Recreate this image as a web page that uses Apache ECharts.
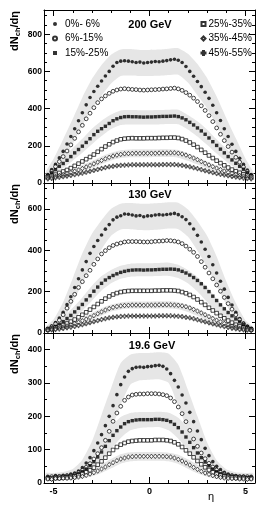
<!DOCTYPE html>
<html><head><meta charset="utf-8">
<script src="https://cdn.jsdelivr.net/npm/echarts@6/dist/echarts.min.js"></script>
<style>html,body{margin:0;padding:0;background:#fff}#c{width:274px;height:509px}</style>
</head><body><div id="c"></div>
<script>
// ---------- data ----------
const ETA = [-5.3,-5.1,-4.9,-4.7,-4.5,-4.3,-4.1,-3.9,-3.7,-3.5,-3.3,-3.1,-2.9,-2.7,-2.5,-2.3,-2.1,-1.9,-1.7,-1.5,-1.3,-1.1,-0.9,-0.7,-0.5,-0.3,-0.1,
             0.1,0.3,0.5,0.7,0.9,1.1,1.3,1.5,1.7,1.9,2.1,2.3,2.5,2.7,2.9,3.1,3.3,3.5,3.7,3.9,4.1,4.3,4.5,4.7,4.9,5.1,5.3];
const CENT = ['0%- 6%','6%-15%','15%-25%','25%-35%','35%-45%','45%-55%'];
const PANEL_LABELS = ['200 GeV','130 GeV','19.6 GeV'];

// 200 GeV
const E200_C0 = [45,72,100,135,170,210,250,292,335,378,420,460,492,520,548,575,600,628,648,655,657,655,652,648,650,645,648,
                 650,653,652,655,658,662,665,660,648,626,600,574,546,518,488,455,418,378,336,292,250,208,170,133,100,70,45];
const E200_C1 = [40,62,88,115,142,172,205,240,275,310,345,375,405,432,452,468,482,493,500,505,507,505,503,502,500,499,500,
                 501,502,503,505,506,508,510,506,498,486,472,456,438,415,390,362,330,296,262,228,196,166,138,112,86,62,40];
const E200_C2 = [40,55,72,90,105,122,142,162,180,198,218,238,260,278,292,305,320,335,345,352,356,357,356,356,355,354,355,
                 355,356,357,358,358,359,360,357,350,340,326,312,296,280,262,242,222,202,182,162,142,124,106,90,74,56,40];
const E200_C3 = [32,38,45,54,62,70,80,92,104,116,128,140,153,168,182,196,208,220,228,235,238,240,241,240,240,240,241,
                 241,241,242,243,243,244,244,242,236,228,218,206,193,178,163,148,134,120,107,95,83,72,63,55,47,40,33];
const E200_C4 = [28,32,36,40,45,50,56,63,70,78,86,94,103,112,121,130,138,145,150,154,157,158,159,160,159,160,160,
                 160,160,161,161,161,162,162,160,156,150,143,134,125,115,106,97,88,80,72,64,57,51,46,41,37,33,29];
const E200_C5 = [22,25,28,31,34,37,41,45,49,53,58,63,68,73,78,83,87,90,93,95,96,97,98,98,98,98,98,
                 98,98,98,99,99,99,99,97,95,91,87,82,77,72,66,61,56,51,47,43,39,35,32,29,26,24,22];
// 130 GeV
const E130_C0 = [22,33,50,72,100,137,175,220,262,305,345,385,418,447,474,502,524,547,560,567,575,574,570,566,568,562,566,
                 567,570,572,570,573,575,578,572,562,548,528,503,472,440,405,370,330,290,250,212,172,135,100,70,48,32,22];
const E130_C1 = [20,30,44,62,88,120,153,187,220,248,277,303,332,358,382,398,412,423,430,435,440,442,442,442,441,440,440,
                 441,443,444,445,447,446,444,440,432,420,405,390,370,345,318,290,262,232,202,172,142,115,88,64,44,30,20];
const E130_C2 = [18,24,32,42,55,70,85,102,120,138,160,180,202,222,240,256,268,278,286,293,298,302,304,305,305,304,305,
                 305,306,307,308,308,309,308,305,298,290,280,268,254,238,220,200,178,157,136,117,99,83,68,54,41,30,21];
const E130_C3 = [16,20,25,31,38,46,55,65,76,88,100,113,126,140,153,166,177,186,193,198,201,203,204,204,204,204,204,
                 204,205,205,206,206,206,205,203,198,192,184,174,162,149,136,122,109,96,83,71,60,50,40,32,25,20,16];
const E130_C4 = [15,18,21,25,29,34,39,45,52,59,67,75,84,93,102,111,118,124,128,131,133,134,135,135,135,134,135,
                 135,135,136,136,136,136,135,134,131,127,121,114,106,97,88,79,70,62,54,46,39,33,28,23,19,16,14];
const E130_C5 = [13,15,17,19,22,25,28,32,36,40,45,50,55,60,65,69,73,76,78,80,81,82,82,82,82,82,82,
                 82,82,83,83,83,83,82,81,79,76,73,69,64,59,54,49,44,40,35,31,27,23,20,17,15,14,13];
// 19.6 GeV
const E196_C0 = [20,18,22,20,23,24,27,30,36,46,60,76,97,120,145,172,200,232,265,295,318,335,343,347,348,347,349,
                 350,352,353,350,342,328,308,288,264,240,212,184,156,130,104,82,64,50,40,32,27,24,22,20,21,19,20];
const E196_C1 = [17,19,18,20,20,21,23,26,31,38,47,58,72,88,106,128,155,185,210,230,248,258,264,266,267,267,268,
                 268,268,267,265,262,255,244,228,208,184,158,132,110,90,73,59,48,39,32,27,23,21,20,19,18,19,17];
const E196_C2 = [16,15,17,17,18,19,21,24,28,34,42,52,64,78,93,110,127,143,157,168,178,184,187,189,190,190,190,
                 190,191,191,190,188,184,176,166,153,138,122,106,90,76,63,52,42,34,28,24,21,19,18,17,16,16,15];
const E196_C3 = [14,13,15,15,16,17,18,20,23,27,32,38,46,55,65,76,88,99,108,115,120,124,126,127,128,128,128,
                 128,129,129,129,128,126,122,116,108,98,88,77,66,56,47,39,32,27,23,20,18,17,16,15,15,14,14];
const E196_C4 = [12,11,13,13,14,14,15,16,18,20,23,27,31,36,42,48,55,61,67,72,75,78,79,80,80,80,80,
                 80,80,80,80,79,78,75,71,66,60,54,47,41,35,30,26,22,19,17,15,14,13,13,12,12,11,12];

// systematic bands
const BAND_ETA = [-5.4,-5,-4.5,-4,-3.5,-3,-2.5,-2,-1.5,-1,-0.5,0,0.5,1,1.5,2,2.5,3,3.5,4,4.5,5,5.4];
const B200_0_HI = [60,130,235,345,460,560,635,690,718,720,715,715,717,722,725,695,640,565,465,350,240,132,60];
const B200_0_LO = [15,55,120,210,310,400,470,535,575,578,575,575,576,580,582,540,472,402,310,210,120,55,15];
const B200_2_HI = [55,85,135,188,238,292,335,368,390,392,391,391,392,394,394,366,332,288,234,184,132,84,55];
const B200_2_LO = [25,45,80,120,162,208,252,290,312,315,314,314,315,317,316,288,250,205,158,116,78,44,25];
const B200_4_HI = [38,46,58,75,96,118,142,162,176,180,181,181,182,182,178,160,140,116,94,73,57,45,38];
const B200_4_LO = [18,24,34,47,62,80,101,121,134,138,139,139,140,140,136,119,99,78,60,45,33,23,18];
const B130_0_HI = [30,65,150,265,385,480,545,600,625,628,625,625,628,632,630,598,540,470,370,250,145,62,30];
const B130_0_LO = [10,22,65,145,240,330,405,470,500,502,498,497,500,505,502,466,398,320,228,138,62,21,10];
const B130_2_HI = [26,42,75,122,172,228,275,305,325,335,337,337,338,340,330,305,270,222,166,118,72,40,26];
const B130_2_LO = [8,16,38,70,108,156,205,240,262,272,274,274,275,276,266,240,200,150,104,68,36,15,8];
const B130_4_HI = [22,28,40,55,75,97,120,138,148,152,152,152,153,153,149,136,118,95,73,53,38,27,22];
const B130_4_LO = [8,12,20,31,45,63,85,104,114,118,118,118,119,119,115,102,83,61,43,30,19,11,8];
const B196_0_HI = [30,30,33,42,70,125,205,285,360,385,390,390,392,388,355,280,200,122,68,41,32,30,30];
const B196_0_LO = [10,11,12,17,28,52,95,160,235,295,308,310,311,300,230,156,92,50,27,16,12,11,10];
const B196_2_HI = [24,24,27,32,48,82,125,168,198,210,213,213,214,211,196,165,122,80,47,31,26,24,24];
const B196_2_LO = [9,9,11,14,22,38,65,102,135,158,165,167,168,158,133,100,63,37,21,13,11,9,9];
const B196_4_HI = [18,18,20,22,29,40,56,72,86,92,93,93,93,91,85,71,55,39,28,21,19,18,18];
const B196_4_LO = [7,7,8,9,13,20,30,44,58,65,67,67,67,65,57,43,29,19,12,8,7,7,7];

// ticks
const X_MAJOR = [-5,0,5];
const X_MINOR = [-5,-4,-3,-2,-1,0,1,2,3,4,5];
const Y_MAJOR = [[0,200,400,600,800],[0,200,400,600],[0,100,200,300,400]];
const Y_MINOR = [[50,100,150,200,250,300,350,400,450,500,550,600,650,700,750,800,850,900],
                 [50,100,150,200,250,300,350,400,450,500,550,600,650,700],
                 [50,100,150,200,250,300,350,400]];
const Y_MAX = [930,725,450];

// ---------- build ----------
const PANELS = [
  {series:[E200_C0,E200_C1,E200_C2,E200_C3,E200_C4,E200_C5], bands:[[B200_0_LO,B200_0_HI],[B200_2_LO,B200_2_HI],[B200_4_LO,B200_4_HI]]},
  {series:[E130_C0,E130_C1,E130_C2,E130_C3,E130_C4,E130_C5], bands:[[B130_0_LO,B130_0_HI],[B130_2_LO,B130_2_HI],[B130_4_LO,B130_4_HI]]},
  {series:[E196_C0,E196_C1,E196_C2,E196_C3,E196_C4], bands:[[B196_0_LO,B196_0_HI],[B196_2_LO,B196_2_HI],[B196_4_LO,B196_4_HI]]}
];
const FONT = '"Liberation Sans", Arial, Helvetica, sans-serif';
const GRID_POS = [{top:10,height:173},{top:183,height:150},{top:333,height:150}];
const CROSS = 'path://M3,0L5,0L5,3L8,3L8,5L5,5L5,8L3,8L3,5L0,5L0,3L3,3Z';
const STYLE = [
  {symbol:'circle', size:3.6, itemStyle:{color:'#000'}},
  {symbol:'circle', size:3.8, itemStyle:{color:'#fff', borderColor:'#000', borderWidth:0.9}},
  {symbol:'rect', size:3.4, itemStyle:{color:'#000'}},
  {symbol:'rect', size:3.6, itemStyle:{color:'#fff', borderColor:'#000', borderWidth:0.9}},
  {symbol:'diamond', size:[3.6,4.6], itemStyle:{color:'#fff', borderColor:'#000', borderWidth:0.8}},
  {symbol:CROSS, size:4.2, itemStyle:{color:'#fff', borderColor:'#000', borderWidth:0.8}}
];
const AX = {color:'#000', width:1};

const grid = [], xAxis = [], yAxis = [], series = [], graphic = [];
GRID_POS.forEach((gp, g) => {
  grid.push({left:44, width:211, top:gp.top, height:gp.height, containLabel:false});
  const mk = (pos, major, isX) => {
    const o = {type:'value', gridIndex:g, position:pos,
      axisLine:{show:major, onZero:false, lineStyle:AX},
      axisTick:{show:true, inside:true, length: major?6:3, lineStyle:AX,
                customValues: isX ? (major?X_MAJOR:X_MINOR) : (major?Y_MAJOR[g]:Y_MINOR[g])},
      splitLine:{show:false}};
    if (isX) { o.min = -5.5; o.max = 5.5; } else { o.min = 0; o.max = Y_MAX[g]; }
    const showLab = major && ((isX && pos==='bottom' && g===2) || (!isX && pos==='left'));
    o.axisLabel = showLab ? {show:true, customValues: isX?X_MAJOR:Y_MAJOR[g], fontFamily:FONT, fontWeight:'bold',
                             fontSize: isX?9:8.5, color:'#000', margin: isX?4:2} : {show:false};
    return o;
  };
  xAxis.push(mk('bottom',true,true), mk('bottom',false,true), mk('top',true,true), mk('top',false,true));
  yAxis.push(mk('left',true,false), mk('left',false,false), mk('right',true,false), mk('right',false,false));

  PANELS[g].bands.forEach(([lo, hi]) => {
    series.push({type:'custom', xAxisIndex:4*g, yAxisIndex:4*g, data:[[0,0]], silent:true, z:1,
      renderItem: (params, api) => {
        const pts = [];
        for (let i=0;i<BAND_ETA.length;i++) pts.push(api.coord([BAND_ETA[i], hi[i]]));
        for (let i=BAND_ETA.length-1;i>=0;i--) pts.push(api.coord([BAND_ETA[i], lo[i]]));
        return {type:'polygon', shape:{points:pts, smooth:0.2}, style:{fill:'#e6e6e6'}};
      }});
  });
  PANELS[g].series.forEach((arr, k) => {
    series.push({type:'scatter', name:CENT[k], xAxisIndex:4*g, yAxisIndex:4*g, z:3, silent:true,
      symbol:STYLE[k].symbol, symbolSize:STYLE[k].size, itemStyle:STYLE[k].itemStyle,
      data: ETA.map((x,i)=>[x, arr[i]])});
  });
  graphic.push({type:'text', x:15, y:gp.top+1, rotation:Math.PI/2,
    style:{text:'{a|dN}{s|ch}{a|/dη}', align:'right', verticalAlign:'middle', fill:'#000',
      rich:{a:{fontSize:11, fontWeight:'bold', fontFamily:FONT, lineHeight:14, verticalAlign:'middle'},
            s:{fontSize:7.5, fontWeight:'bold', fontFamily:FONT, lineHeight:7, verticalAlign:'bottom'}}}});
});
const LABEL_POS = [[150,25],[150,195],[152,346]];
PANEL_LABELS.forEach((t,i)=>graphic.push({type:'text', x:LABEL_POS[i][0], y:LABEL_POS[i][1],
  style:{text:t, align:'center', verticalAlign:'middle', fontFamily:FONT, fontWeight:'bold', fontSize:11, fill:'#000'}}));
graphic.push({type:'text', x:211, y:497, style:{text:'η', align:'center', verticalAlign:'middle', fontFamily:FONT, fontSize:11, fill:'#000'}});

const chart = echarts.init(document.getElementById('c'), null, {renderer:'canvas'});
chart.setOption({
  animation:false, backgroundColor:'#fff',
  grid, xAxis, yAxis, series, graphic,
  legend:[
    {data:CENT.slice(0,3), orient:'vertical', left:52, top:19, itemWidth:4, itemHeight:4, itemGap:4.5, padding:0,
     selectedMode:false, textStyle:{fontSize:10, fontFamily:FONT, color:'#000', padding:[0,0,0,3]}},
    {data:CENT.slice(3), orient:'vertical', left:200.5, top:19, itemWidth:4, itemHeight:4, itemGap:4.5, padding:0,
     selectedMode:false, textStyle:{fontSize:10, fontFamily:FONT, color:'#000', padding:[0,0,0,-2]}}
  ]
});
</script></body></html>
